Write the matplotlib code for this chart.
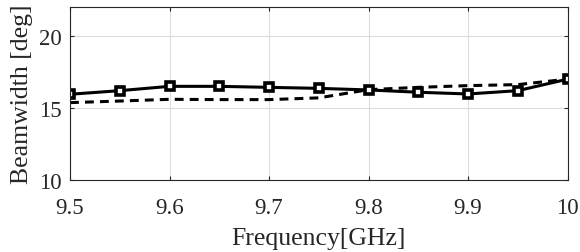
import matplotlib
matplotlib.use('Agg')
import matplotlib.pyplot as plt

plt.rcParams['font.family'] = ['Liberation Serif', 'DejaVu Serif']

freq = [9.5, 9.55, 9.6, 9.65, 9.7, 9.75, 9.8, 9.85, 9.9, 9.95, 10.0]
measured = [15.95, 16.2, 16.5, 16.5, 16.43, 16.36, 16.25, 16.09, 15.97, 16.2, 17.0]
simulated = [15.37, 15.48, 15.6, 15.58, 15.58, 15.7, 16.27, 16.43, 16.55, 16.62, 17.0]

fig = plt.figure(figsize=(5.8, 2.53), dpi=100)
ax = fig.add_axes([0.1207, 0.2846, 0.858, 0.6834])

ax.plot(freq, simulated, 'k--', lw=2.2, dashes=(2.9, 2.0))
ax.plot(freq, measured, 'k-', lw=2.2, marker='s', ms=5.5, mfc='white', mec='black', mew=2.6)

ax.set_xlim(9.5, 10)
ax.set_ylim(10, 22)
ax.set_xticks([9.5, 9.6, 9.7, 9.8, 9.9, 10])
ax.set_xticklabels(['9.5', '9.6', '9.7', '9.8', '9.9', '10'])
ax.set_yticks([10, 15, 20])
ax.grid(True, color='#dcdcdc', lw=0.8)
ax.tick_params(direction='in', labelsize=16.5, colors='#262626', top=True, right=True, length=3)
ax.tick_params(axis='x', pad=12)
ax.tick_params(axis='y', pad=6)
for s in ax.spines.values():
    s.set_color('#262626')
    s.set_linewidth(0.8)
ax.set_xlabel('Frequency[GHz]', fontsize=18.5, color='#262626', labelpad=7)
ax.set_ylabel('Beamwidth [deg]', fontsize=18.5, color='#262626', labelpad=4)

fig.savefig('out.png', dpi=100)
